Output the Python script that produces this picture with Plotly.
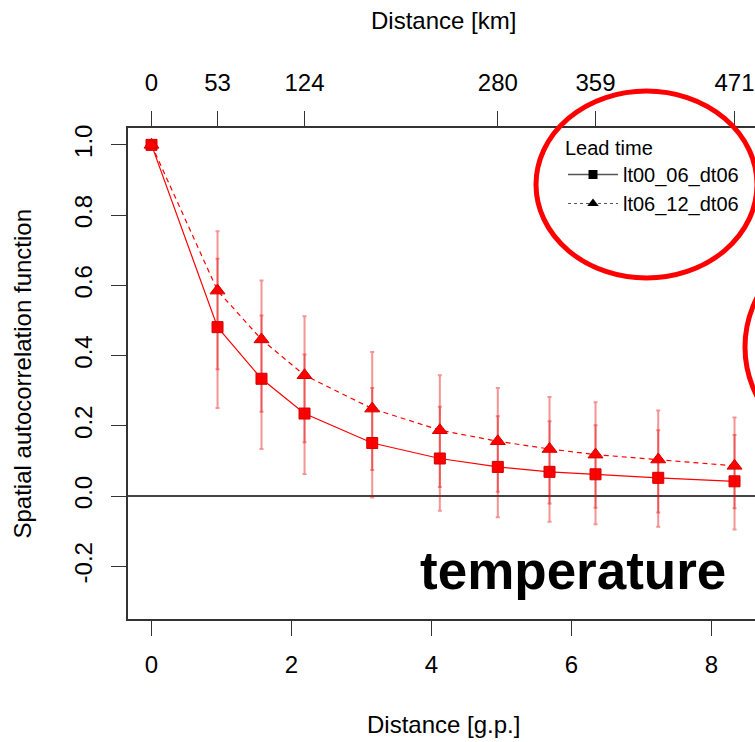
import plotly.graph_objects as go

# ---- data ----
gp = [0, 0.943, 1.571, 2.186, 3.153, 4.119, 4.947, 5.686, 6.343, 7.239, 8.329]

sq_name = "lt00_06_dt06"
sq = [1.0, 0.481, 0.334, 0.235, 0.151, 0.107, 0.083, 0.069, 0.062, 0.052, 0.042]
sq_lo = [1.0, 0.251, 0.134, 0.0625, -0.004, -0.042, -0.060, -0.073, -0.080, -0.087, -0.095]
sq_hi = [1.0, 0.676, 0.514, 0.403, 0.308, 0.254, 0.227, 0.213, 0.202, 0.1875, 0.174]

tri_name = "lt06_12_dt06"
tri = [1.0, 0.585, 0.446, 0.344, 0.249, 0.1875, 0.156, 0.134, 0.118, 0.104, 0.086]
tri_lo = [1.0, 0.361, 0.240, 0.153, 0.074, 0.026, 0.012, -0.021, -0.033, -0.047, -0.035]
tri_hi = [1.0, 0.754, 0.614, 0.512, 0.410, 0.344, 0.308, 0.282, 0.267, 0.244, 0.224]

km_labels = ["0", "53", "124", "280", "359", "471"]
km_idx = [0, 1, 3, 6, 8, 10]

x_ticks = [0, 2, 4, 6, 8]
y_ticks = [-0.2, 0.0, 0.2, 0.4, 0.6, 0.8, 1.0]
y_ticktext = ["-0.2", "0.0", "0.2", "0.4", "0.6", "0.8", "1.0"]

FONT = "Liberation Sans, Arial, sans-serif"
RED = "#ff0000"
ERR = "rgba(230,0,0,0.42)"
AX = "#333333"

W, H = 755, 742
L, T, B = 128, 128, 123
plot_w = W - L
plot_h = H - T - B


def px_x(X):
    return (X - L) / plot_w


def px_y(Y):
    return (H - B - Y) / plot_h


fig = go.Figure()

fig.add_trace(go.Scatter(
    x=gp, y=sq, mode="lines+markers", showlegend=False,
    line=dict(color=RED, width=1.2),
    marker=dict(symbol="square", size=11, color=RED, line=dict(color="#d00000", width=1)),
    error_y=dict(type="data", symmetric=False,
                 array=[h - v for h, v in zip(sq_hi, sq)],
                 arrayminus=[v - l for v, l in zip(sq, sq_lo)],
                 color=ERR, thickness=2, width=2),
))
fig.add_trace(go.Scatter(
    x=gp, y=tri, mode="lines+markers", showlegend=False,
    line=dict(color=RED, width=1.2, dash="5px,4px"),
    marker=dict(symbol="triangle-up", size=13, color=RED, line=dict(color="#d00000", width=1)),
    error_y=dict(type="data", symmetric=False,
                 array=[h - v for h, v in zip(tri_hi, tri)],
                 arrayminus=[v - l for v, l in zip(tri, tri_lo)],
                 color=ERR, thickness=2, width=2),
))

# legend entries (black markers, grey lines as in the reference legend)
fig.add_trace(go.Scatter(
    x=[None], y=[None], mode="lines+markers", name=sq_name,
    line=dict(color="#555555", width=1.5),
    marker=dict(symbol="square", size=9, color="black"),
))
fig.add_trace(go.Scatter(
    x=[None], y=[None], mode="lines+markers", name=tri_name,
    line=dict(color="#555555", width=1.2, dash="3px,3px"),
    marker=dict(symbol="triangle-up", size=10, color="black"),
))

# top axis carrier (invisible point so the overlaying axis is active)
fig.add_trace(go.Scatter(x=[gp[0]], y=[sq[0]], xaxis="x2", mode="markers",
                         marker=dict(opacity=0), showlegend=False, hoverinfo="skip"))

xr = [-0.336, (W - 151.5) / 70.0]

fig.update_layout(
    width=W, height=H,
    margin=dict(l=L, r=0, t=T, b=B, pad=0, autoexpand=False),
    paper_bgcolor="white", plot_bgcolor="white",
    font=dict(family=FONT, size=24, color="black"),
    xaxis=dict(range=xr, tickvals=x_ticks, ticks="outside", ticklen=15, tickwidth=1.2,
               tickcolor=AX, showline=True, linecolor=AX, linewidth=1.5, mirror=False,
               showgrid=False, zeroline=False, ticklabelstandoff=8,
               tickfont=dict(size=24, family=FONT)),
    xaxis2=dict(range=xr, overlaying="x", side="top",
                tickvals=[gp[i] for i in km_idx], ticktext=km_labels,
                ticks="outside", ticklen=15, tickwidth=1.2, tickcolor=AX,
                showline=True, linecolor=AX, linewidth=1.5, showgrid=False, zeroline=False,
                ticklabelstandoff=11, tickfont=dict(size=24, family=FONT)),
    yaxis=dict(range=[-0.35, 1.048], tickvals=y_ticks, ticktext=y_ticktext, tickangle=-90,
               ticks="outside", ticklen=15, tickwidth=1.2, tickcolor=AX,
               showline=True, linecolor=AX, linewidth=1.5, showgrid=False,
               zeroline=True, zerolinecolor="#444444", zerolinewidth=2,
               ticklabelstandoff=10, tickfont=dict(size=24, family=FONT)),
    legend=dict(x=px_x(563), y=px_y(129), xanchor="left", yanchor="top",
                bgcolor="rgba(0,0,0,0)", borderwidth=0,
                font=dict(size=20, family=FONT), itemwidth=50,
                title=dict(text="Lead time", font=dict(size=20, family=FONT))),
    showlegend=True,
)

fig.add_annotation(text="Distance [km]", xref="paper", yref="paper",
                   x=px_x(443), y=px_y(21), showarrow=False,
                   xanchor="center", yanchor="middle", font=dict(size=24, family=FONT))
fig.add_annotation(text="Distance [g.p.]", xref="paper", yref="paper",
                   x=px_x(443), y=px_y(724), showarrow=False,
                   xanchor="center", yanchor="middle", font=dict(size=24, family=FONT))
fig.add_annotation(text="Spatial autocorrelation function", xref="paper", yref="paper",
                   x=px_x(22), y=0.5, showarrow=False, textangle=-90,
                   xanchor="center", yanchor="middle", font=dict(size=24, family=FONT))
fig.add_annotation(text="<b>temperature</b>", xref="paper", yref="paper",
                   x=px_x(728), y=px_y(570), showarrow=False,
                   xanchor="right", yanchor="middle", font=dict(size=53, family=FONT))

# red hand-drawn highlight ellipses
fig.add_shape(type="circle", xref="paper", yref="paper", layer="above",
              x0=px_x(536), x1=px_x(757), y0=px_y(278), y1=px_y(91),
              line=dict(color="#ff0000", width=5))
fig.add_shape(type="circle", xref="paper", yref="paper", layer="above",
              x0=px_x(745), x1=px_x(967), y0=px_y(456), y1=px_y(238),
              line=dict(color="#ff0000", width=5))

fig.write_html("out.html")
